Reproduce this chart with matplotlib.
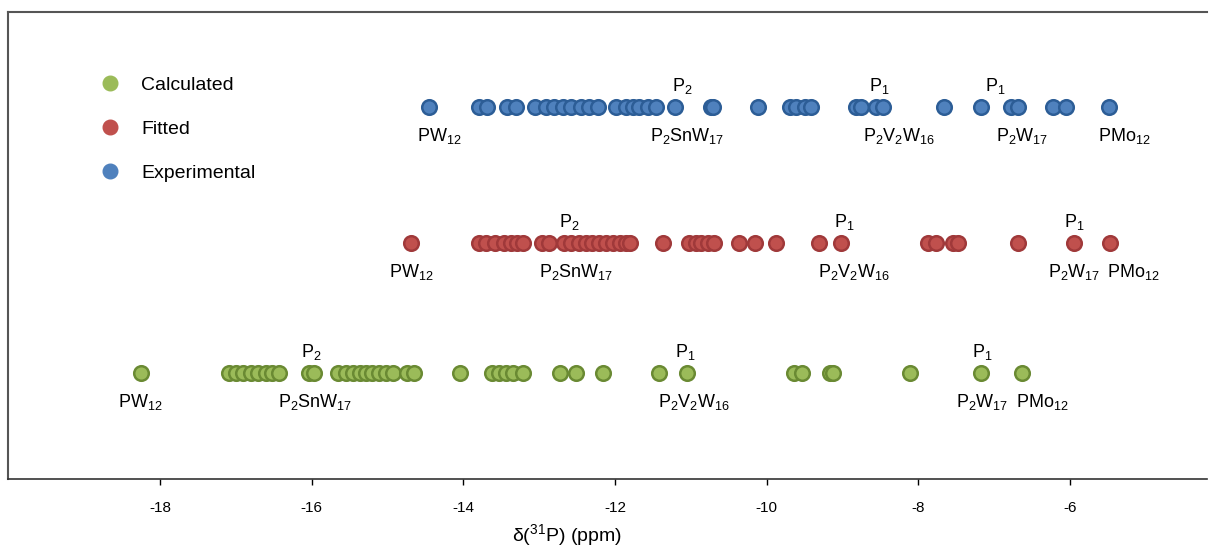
import matplotlib
matplotlib.use("Agg")
import matplotlib.pyplot as plt
from matplotlib.lines import Line2D

plt.rcParams.update({
    "font.family": "Liberation Sans",
    "mathtext.default": "regular",
    "font.size": 13,
    "axes.unicode_minus": False,
})

# chemical shifts (ppm)
calculated = [-18.25, -17.09, -17.00, -16.91, -16.80, -16.71, -16.60, -16.52, -16.43,
              -16.04, -15.97, -15.66, -15.55, -15.46, -15.37, -15.28, -15.20, -15.11,
              -15.02, -14.93, -14.74, -14.65, -14.05, -13.62, -13.53, -13.44, -13.35,
              -13.22, -12.73, -12.51, -12.16, -11.42, -11.05, -9.64, -9.53, -9.17,
              -9.12, -8.11, -7.17, -6.63]
fitted = [-14.69, -13.79, -13.70, -13.59, -13.46, -13.37, -13.29, -13.22, -12.96,
          -12.87, -12.67, -12.58, -12.47, -12.38, -12.30, -12.21, -12.12, -12.03,
          -11.94, -11.86, -11.81, -11.37, -11.02, -10.93, -10.87, -10.78, -10.69,
          -10.36, -10.16, -9.88, -9.31, -9.02, -7.88, -7.77, -7.55, -7.48, -6.69,
          -5.95, -5.48]
experimental = [-14.45, -13.79, -13.69, -13.42, -13.31, -13.05, -12.91, -12.80, -12.69,
                -12.58, -12.45, -12.34, -12.22, -11.99, -11.86, -11.77, -11.69, -11.57,
                -11.46, -11.21, -10.74, -10.71, -10.12, -9.70, -9.61, -9.49, -9.42,
                -8.82, -8.76, -8.56, -8.47, -7.66, -7.18, -6.78, -6.69, -6.23, -6.06,
                -5.49]

# labels: (text, ppm position)
calc_above = [("P$_2$", -16.0), ("P$_1$", -11.07), ("P$_1$", -7.16)]
calc_below = [("PW$_{12}$", -18.26), ("P$_2$SnW$_{17}$", -15.95), ("P$_2$V$_2$W$_{16}$", -10.96),
              ("P$_2$W$_{17}$", -7.16), ("PMo$_{12}$", -6.37)]
fit_above = [("P$_2$", -12.6), ("P$_1$", -8.98), ("P$_1$", -5.95)]
fit_below = [("PW$_{12}$", -14.69), ("P$_2$SnW$_{17}$", -12.51), ("P$_2$V$_2$W$_{16}$", -8.85),
             ("P$_2$W$_{17}$", -5.95), ("PMo$_{12}$", -5.16)]
exp_above = [("P$_2$", -11.11), ("P$_1$", -8.52), ("P$_1$", -6.98)]
exp_below = [("PW$_{12}$", -14.32), ("P$_2$SnW$_{17}$", -11.05), ("P$_2$V$_2$W$_{16}$", -8.25),
             ("P$_2$W$_{17}$", -6.63), ("PMo$_{12}$", -5.29)]

series = [
    ("Calculated", calculated, 0.228, "#9bbb59", "#6a8a33", calc_above, calc_below),
    ("Fitted", fitted, 0.505, "#c0504d", "#a0393a", fit_above, fit_below),
    ("Experimental", experimental, 0.797, "#4f81bd", "#2c5d96", exp_above, exp_below),
]

fig = plt.figure(figsize=(12.09, 5.47), dpi=100)
ax = fig.add_axes([0.007, 0.1243, 0.991, 0.8537])

handles = []
for name, vals, y, face, edge, above, below in series:
    ax.scatter(vals, [y] * len(vals), s=110, c=face, edgecolors=edge,
               linewidths=1.8, zorder=3)
    for txt, xv in above:
        ax.annotate(txt, (xv, y), xytext=(0, 21), textcoords="offset pixels",
                    ha="center", va="center")
    for txt, xv in below:
        ax.annotate(txt, (xv, y), xytext=(0, -29), textcoords="offset pixels",
                    ha="center", va="center")
    handles.append(Line2D([], [], marker="o", ls="", markersize=10.5,
                          markerfacecolor=face, markeredgecolor=face, label=name))

ax.legend(handles=handles, loc="upper left", bbox_to_anchor=(0.054, 0.9),
          frameon=False, labelspacing=1.35, handletextpad=0.6, fontsize=14)

ax.set_xlim(-20.0, -4.2)
ax.set_ylim(0, 1)
ax.set_xticks([-18, -16, -14, -12, -10, -8, -6])
ax.set_yticks([])
ax.tick_params(axis="x", direction="out", length=4, width=1, pad=12, labelsize=11)
ax.set_xlabel(r"$\delta$($^{31}$P) (ppm)", fontsize=14)
ax.xaxis.set_label_coords(0.466, -0.092)
ax.spines["right"].set_visible(False)
for sp in ["left", "top"]:
    ax.spines[sp].set_color("#555555")
    ax.spines[sp].set_linewidth(1.5)
ax.spines["bottom"].set_color("#333333")
ax.spines["bottom"].set_linewidth(1.2)

fig.savefig("out.png", dpi=100)
